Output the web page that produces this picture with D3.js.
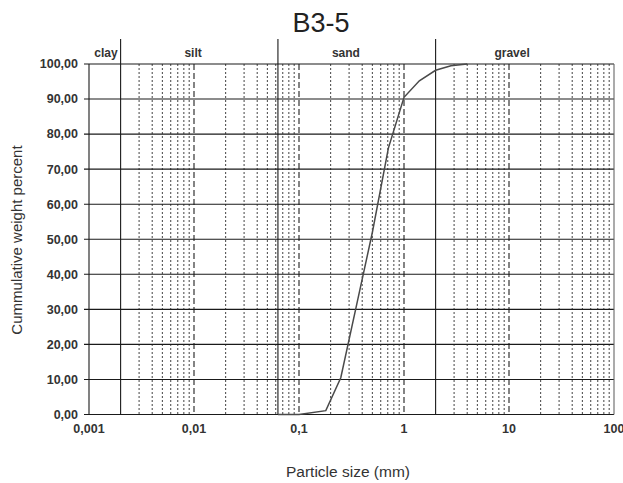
<!DOCTYPE html>
<html>
<head>
<meta charset="utf-8">
<script src="https://cdn.jsdelivr.net/npm/d3@7"></script>
<style>
  html, body { margin: 0; padding: 0; background: #fff; }
  svg { display: block; font-family: "Liberation Sans", Arial, sans-serif; }
</style>
</head>
<body>
<svg id="chart" width="623" height="483"></svg>
<script>
// Grain size distribution, sample B3-5
const sizesMm = [0.063, 0.1, 0.18, 0.25, 0.355, 0.5, 0.71, 1, 1.4, 2, 2.8, 4];
const passingPct = [0, 0, 1.1, 10.5, 31.5, 52, 76, 90.5, 95.2, 98.2, 99.5, 100];

const xTickValues = [0.001, 0.01, 0.1, 1, 10, 100];
const xTickLabels = ["0,001", "0,01", "0,1", "1", "10", "100"];
const yTickValues = [0, 10, 20, 30, 40, 50, 60, 70, 80, 90, 100];

// Soil class boundaries (mm) and class names
const classBounds = [0.002, 0.063, 2];
const classNames = ["clay", "silt", "sand", "gravel"];
const classLabelAt = [0.00145, 0.0098, 0.28, 10.7];

const svg = d3.select("#chart");
const x = d3.scaleLog().domain([0.001, 100]).range([89, 614]);
const y = d3.scaleLinear().domain([0, 100]).range([414.5, 64]);

// minor (2..9) grid positions per decade, skipping class boundaries
const minor = [];
for (let e = -3; e < 2; e++) {
  for (let m = 2; m <= 9; m++) {
    const v = m * Math.pow(10, e);
    if (!classBounds.some(b => Math.abs(b - v) / b < 1e-9)) minor.push(v);
  }
}
const decades = [0.01, 0.1, 1, 10];

const grid = svg.append("g");
grid.selectAll("line.minor").data(minor).join("line")
  .attr("class", "minor")
  .attr("x1", d => x(d)).attr("x2", d => x(d))
  .attr("y1", y(100)).attr("y2", y(0))
  .attr("stroke", "#555").attr("stroke-width", 1.1)
  .attr("stroke-dasharray", "2,2");

grid.selectAll("line.decade").data(decades).join("line")
  .attr("class", "decade")
  .attr("x1", d => x(d)).attr("x2", d => x(d))
  .attr("y1", y(100)).attr("y2", y(0))
  .attr("stroke", "#333").attr("stroke-width", 1.2)
  .attr("stroke-dasharray", "6,3");

// horizontal grid with outward ticks
grid.selectAll("line.h").data(yTickValues).join("line")
  .attr("class", "h")
  .attr("x1", x(0.001) - 5).attr("x2", x(100))
  .attr("y1", d => y(d)).attr("y2", d => y(d))
  .attr("stroke", "#1a1a1a").attr("stroke-width", 1.1);

// plot frame sides
grid.selectAll("line.side").data([0.001, 100]).join("line")
  .attr("class", "side")
  .attr("x1", d => x(d)).attr("x2", d => x(d))
  .attr("y1", y(100)).attr("y2", y(0))
  .attr("stroke", d => d === 100 ? "#666" : "#1a1a1a").attr("stroke-width", 1.1);

// class boundaries reach above the plot into the label band
grid.selectAll("line.bound").data(classBounds).join("line")
  .attr("class", "bound")
  .attr("x1", d => x(d)).attr("x2", d => x(d))
  .attr("y1", 39).attr("y2", y(0))
  .attr("stroke", "#1a1a1a").attr("stroke-width", 1.1);

svg.append("g").selectAll("text").data(classNames).join("text")
  .attr("x", (d, i) => x(classLabelAt[i]))
  .attr("y", 56.5)
  .attr("text-anchor", "middle")
  .attr("font-size", 12).attr("font-weight", "bold").attr("fill", "#333")
  .text(d => d);

// y tick labels
svg.append("g").selectAll("text").data(yTickValues).join("text")
  .attr("x", 78)
  .attr("y", d => y(d))
  .attr("dy", "0.35em")
  .attr("text-anchor", "end")
  .attr("font-size", 12.5).attr("font-weight", "bold").attr("fill", "#333")
  .text(d => d3.format(".2f")(d).replace(".", ","));

// x tick labels
svg.append("g").selectAll("text").data(xTickValues).join("text")
  .attr("x", d => x(d))
  .attr("y", 432.5)
  .attr("text-anchor", "middle")
  .attr("font-size", 12.5).attr("font-weight", "bold").attr("fill", "#333")
  .text((d, i) => xTickLabels[i]);

// cumulative curve
const line = d3.line()
  .x((d, i) => x(sizesMm[i]))
  .y(d => y(d));
svg.append("path")
  .datum(passingPct)
  .attr("d", line)
  .attr("fill", "none")
  .attr("stroke", "#4a4a4a")
  .attr("stroke-width", 1.5);

// titles
svg.append("text")
  .attr("x", 321).attr("y", 32)
  .attr("text-anchor", "middle")
  .attr("font-size", 27).attr("fill", "#222")
  .text("B3-5");

svg.append("text")
  .attr("x", 348).attr("y", 477)
  .attr("text-anchor", "middle")
  .attr("font-size", 15.5).attr("fill", "#333")
  .text("Particle size (mm)");

svg.append("text")
  .attr("transform", "translate(22,240) rotate(-90)")
  .attr("text-anchor", "middle")
  .attr("font-size", 15).attr("fill", "#333")
  .text("Cummulative weight percent");
</script>
</body>
</html>
